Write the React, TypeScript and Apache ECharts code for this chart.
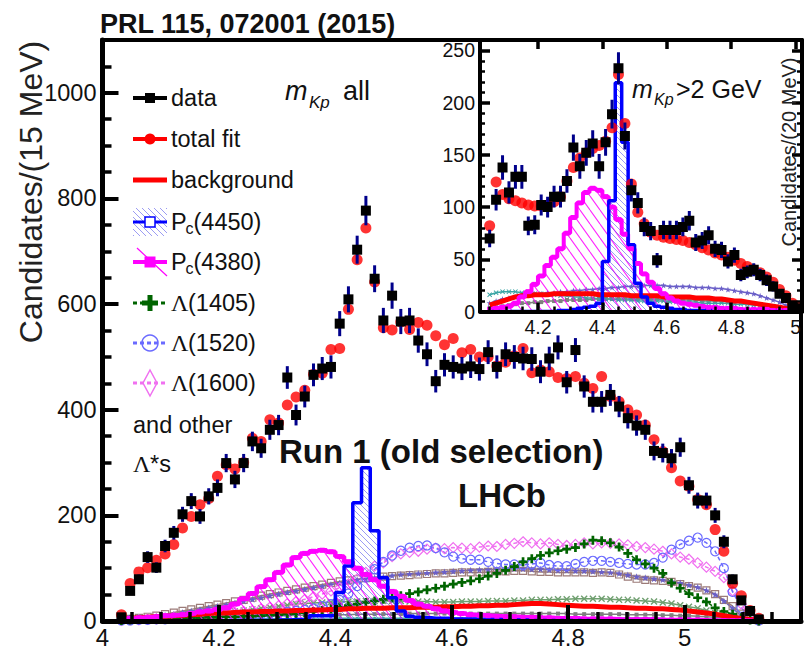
import React, { useEffect, useRef } from 'react';
import * as echarts from 'echarts';

const FONT = '"Liberation Sans", Arial, Helvetica, sans-serif';
const SERIF = '"Liberation Serif", "Times New Roman", serif';

// ---------- m(J/psi p), all m(Kp): 15 MeV bins ----------
const MAIN_FIRST_BIN = 4.0325;
const MAIN_BIN_WIDTH = 0.015;

const mainData = [
  7, 57, 79, 121, 101, 142, 167, 202, 227, 198,
  236, 252, 299, 268, 299, 340, 327, 362, 371, 461,
  390, 425, 466, 478, 481, 563, 609, 703, 777, 648,
  569, 616, 567, 569, 531, 505, 454, 485, 481, 478,
  482, 477, 509, 481, 505, 500, 497, 496, 472, 497,
  518, 452, 513, 444, 415, 415, 428, 406, 384, 370,
  362, 322, 318, 308, 329, 257, 228, 228, 200, 150,
  79, 39, 19, 3,
];
const mainFit = [
  12, 71, 93, 101, 115, 127, 145, 176, 198, 220,
  232, 274, 296, 288, 300, 346, 340, 381, 375, 409,
  424, 437, 467, 469, 514, 516, 590, 684, 744, 642,
  555, 551, 566, 552, 565, 560, 540, 523, 535, 508,
  514, 500, 500, 483, 490, 502, 516, 470, 475, 472,
  461, 459, 463, 450, 440, 463, 425, 415, 400, 390,
  371, 343, 321, 290, 265, 255, 230, 220, 173, 132,
  71, 48, 20, 5,
];
const mainPc4450 = [
  0, 0, 0, 0, 0, 0, 0, 0, 0, 0,
  0, 0, 0, 0, 1, 1, 1, 1, 2, 2,
  3, 3, 10, 10, 10, 54, 104, 224, 290, 171,
  82, 44, 19, 9, 7, 6, 5, 5, 4, 4,
  4, 3, 3, 3, 2, 2, 2, 1, 1, 1,
  1, 1, 1, 1, 0, 0, 0, 0, 0, 0,
  0, 0, 0, 0, 0, 0, 0, 0, 0, 0,
  0, 0, 0, 0,
];
const mainPc4380 = [
  3, 5, 6, 7, 8, 10, 11, 12, 14, 17,
  19, 22, 25, 32, 42, 52, 65, 78, 92, 106,
  120, 128, 132, 134, 131, 122, 112, 100, 88, 78,
  66, 56, 47, 39, 32, 28, 23, 19, 16, 14,
  12, 11, 10, 9, 8, 8, 7, 7, 6, 6,
  5, 5, 5, 4, 4, 4, 4, 3, 3, 3,
  3, 3, 2, 2, 2, 2, 2, 1, 1, 1,
  1, 1, 0, 0,
];
const mainBackground = [
  3, 5, 6, 7, 8, 9, 10, 11, 12, 13,
  14, 15, 15, 16, 17, 17, 18, 18, 19, 19,
  20, 20, 21, 21, 22, 22, 23, 23, 24, 24,
  24, 25, 25, 25, 26, 26, 26, 27, 27, 28,
  28, 29, 29, 30, 30, 31, 32, 33, 33, 32,
  31, 30, 29, 28, 28, 27, 26, 26, 25, 24,
  24, 23, 23, 22, 21, 19, 17, 15, 13, 10,
  7, 5, 3, 1,
];
const mainL1405 = [
  1, 2, 3, 3, 4, 4, 5, 5, 6, 6,
  7, 7, 8, 8, 9, 9, 10, 11, 12, 13,
  14, 16, 18, 20, 23, 26, 29, 32, 35, 38,
  41, 44, 48, 52, 55, 59, 62, 66, 70, 73,
  76, 80, 85, 90, 96, 103, 112, 118, 124, 129,
  133, 136, 139, 146, 153, 152, 148, 140, 128, 116,
  108, 100, 90, 72, 62, 52, 44, 36, 25, 18,
  13, 6, 2, 0,
];
const mainL1520 = [
  1, 1, 2, 2, 3, 3, 4, 4, 5, 6,
  7, 8, 9, 10, 11, 12, 13, 14, 15, 17,
  19, 21, 24, 28, 32, 40, 52, 66, 82, 98,
  112, 124, 133, 139, 142, 143, 138, 130, 122, 118,
  116, 116, 112, 109, 107, 107, 106, 108, 110, 106,
  104, 104, 108, 112, 114, 114, 112, 110, 108, 107,
  107, 110, 120, 135, 145, 152, 158, 148, 132, 100,
  55, 25, 8, 1,
];
const mainL1600 = [
  1, 2, 2, 3, 4, 5, 6, 7, 8, 9,
  10, 12, 14, 16, 18, 20, 23, 26, 29, 33,
  37, 41, 46, 51, 57, 63, 70, 80, 92, 104,
  110, 122, 127, 130, 132, 136, 138, 137, 139, 138,
  137, 140, 142, 141, 145, 147, 150, 148, 146, 148,
  145, 143, 145, 148, 146, 148, 147, 146, 144, 141,
  139, 136, 132, 127, 121, 117, 110, 102, 94, 82,
  57, 32, 10, 1,
];
// remaining Lambda* contributions
const mainOtherBrown = [
  2, 4, 6, 8, 10, 13, 16, 19, 22, 25,
  28, 31, 34, 37, 40, 44, 48, 51, 54, 57,
  60, 63, 66, 69, 72, 75, 77, 79, 81, 83,
  84, 85, 86, 87, 88, 89, 90, 90, 91, 92,
  92, 92, 93, 94, 94, 95, 95, 94, 93, 93,
  92, 92, 92, 92, 91, 92, 91, 88, 84, 80,
  78, 77, 76, 74, 70, 66, 63, 58, 51, 40,
  28, 14, 5, 1,
];
const mainOtherSlate = [
  1, 3, 5, 7, 9, 11, 13, 16, 19, 22,
  25, 28, 31, 34, 38, 41, 44, 48, 51, 54,
  57, 60, 63, 66, 69, 72, 75, 78, 80, 82,
  84, 86, 88, 89, 90, 91, 92, 93, 94, 95,
  96, 97, 97, 98, 98, 99, 99, 98, 98, 97,
  96, 96, 95, 95, 94, 93, 92, 90, 87, 84,
  82, 80, 78, 75, 72, 68, 64, 58, 50, 38,
  24, 10, 3, 0,
];
const mainOtherGreen = [
  1, 2, 3, 4, 5, 6, 7, 8, 10, 11,
  13, 14, 16, 18, 20, 22, 24, 26, 28, 30,
  32, 33, 34, 35, 36, 36, 37, 37, 38, 38,
  38, 38, 38, 37, 37, 37, 36, 36, 36, 37,
  37, 37, 38, 38, 38, 39, 39, 40, 40, 40,
  41, 41, 42, 42, 42, 42, 41, 40, 40, 39,
  38, 37, 35, 33, 30, 27, 24, 20, 15, 10,
  6, 3, 1, 0,
];
const mainOtherGrey = [
  1, 1, 2, 2, 3, 3, 4, 4, 5, 5,
  6, 6, 7, 7, 8, 8, 9, 9, 10, 10,
  11, 11, 11, 12, 12, 12, 12, 13, 13, 13,
  13, 13, 13, 14, 14, 14, 14, 14, 14, 14,
  14, 14, 14, 14, 14, 14, 14, 14, 14, 14,
  14, 14, 13, 13, 13, 13, 13, 13, 12, 12,
  12, 12, 11, 11, 10, 10, 9, 8, 7, 6,
  4, 3, 1, 0,
];
const mainOtherTeal = [
  1, 1, 1, 2, 2, 2, 2, 3, 3, 3,
  3, 3, 3, 4, 4, 4, 4, 4, 4, 4,
  4, 4, 4, 4, 4, 5, 5, 5, 5, 5,
  5, 5, 5, 5, 5, 5, 5, 5, 5, 5,
  5, 5, 5, 5, 5, 5, 5, 5, 5, 5,
  5, 5, 5, 5, 5, 5, 5, 5, 5, 5,
  5, 5, 4, 4, 4, 4, 4, 3, 3, 3,
  2, 1, 1, 0,
];

// ---------- inset, m(Kp) > 2 GeV: 20 MeV bins ----------
const INSET_FIRST_BIN = 4.05;
const INSET_BIN_WIDTH = 0.02;

const insetData = [
  70, 107, 138, 114, 129, 129, 82, 83, 102, 100,
  110, 110, 125, 157, 139, 152, 161, 139, 162, 189,
  233, 168, 116, 104, 81, 77, 49, 78, 78, 78,
  81, 87, 66, 68, 73, 60, 59, 48, 54, 35,
  38, 40, 35, 30, 24, 17, 13, 6, 3,
];
const insetFit = [
  82, 124, 112, 108, 106, 104, 102, 101, 101, 102,
  105, 110, 125, 138, 147, 152, 156, 159, 163, 176,
  227, 180, 122, 95, 84, 76, 73, 71, 70, 69,
  68, 66, 64, 61, 59, 56, 54, 52, 49, 46,
  43, 40, 37, 33, 28, 21, 15, 8, 4,
];
const insetPc4450 = [
  0, 0, 0, 0, 0, 0, 0, 0, 0, 0,
  0, 1, 1, 2, 3, 4, 5, 8, 48, 106,
  219, 162, 64, 27, 14, 8, 5, 4, 3, 2,
  2, 1, 1, 1, 1, 0, 0, 0, 0, 0,
  0, 0, 0, 0, 0, 0, 0, 0, 0,
];
const insetPc4380 = [
  2, 3, 4, 5, 8, 14, 19, 26, 34, 44,
  52, 60, 75, 90, 104, 114, 118, 116, 110, 100,
  88, 74, 60, 46, 36, 28, 22, 17, 13, 10,
  8, 7, 6, 5, 4, 4, 3, 3, 3, 2,
  2, 2, 2, 2, 1, 1, 1, 1, 0,
];
const insetBackground = [
  6, 8, 10, 12, 14, 15, 15, 16, 16, 16,
  17, 17, 17, 17, 17, 17, 17, 16, 16, 16,
  16, 16, 15, 15, 15, 15, 15, 14, 14, 14,
  14, 14, 13, 13, 13, 12, 12, 11, 10, 10,
  9, 8, 7, 6, 5, 4, 3, 2, 1,
];
const insetOtherSlate = [
  8, 10, 12, 13, 14, 15, 16, 17, 17, 18,
  18, 19, 19, 20, 20, 21, 21, 22, 22, 23,
  23, 24, 24, 24, 25, 25, 25, 25, 24, 24,
  24, 24, 23, 23, 23, 22, 22, 21, 20, 19,
  18, 17, 15, 13, 11, 9, 6, 4, 2,
];
const insetOtherTeal = [
  16, 18, 19, 19, 19, 18, 18, 17, 17, 16,
  16, 15, 15, 14, 14, 13, 13, 12, 12, 12,
  11, 11, 11, 10, 10, 10, 10, 10, 9, 9,
  9, 9, 9, 8, 8, 8, 8, 8, 7, 7,
  7, 6, 6, 5, 5, 4, 3, 2, 1,
];
const insetOtherGrey = [
  3, 4, 5, 6, 7, 8, 8, 9, 9, 10,
  10, 10, 11, 11, 11, 11, 12, 12, 12, 12,
  12, 12, 12, 12, 12, 12, 12, 11, 11, 11,
  11, 11, 11, 10, 10, 10, 10, 9, 9, 9,
  8, 8, 7, 6, 5, 4, 3, 2, 1,
];

// inset x-axis tick positions (GeV)
const INSET_X_MAJOR = [4.2, 4.4, 4.6, 4.8, 5.0];
const INSET_X_MINOR = [4.05, 4.1, 4.15, 4.25, 4.3, 4.35, 4.45, 4.5, 4.55, 4.65, 4.7, 4.75, 4.85, 4.9, 4.95];

const C = {
  data: '#000000',
  err: '#00008b',
  fit: '#ff0000',
  pc4450: '#0000ff',
  pc4380: '#ff00ff',
  l1405: '#006400',
  l1520: '#6a6aff',
  l1600: '#f070f0',
  brown: '#9c7b78',
  slate: '#6a5fc8',
  green: '#6f9f6f',
  grey: '#7f7f7f',
  teal: '#3aa5a5',
};

const binCenters = (first: number, width: number, n: number) =>
  Array.from({ length: n }, (_, i) => +(first + i * width).toFixed(4));
const xy = (xs: number[], ys: number[]) => ys.map((y, i) => [xs[i], y]);

const PLUS = 'path://M3.5,0h3v3.5h3.5v3h-3.5v3.5h-3v-3.5h-3.5v-3h3.5z';
const CROSS = 'path://M0,1.4L1.4,0L5,3.6L8.6,0L10,1.4L6.4,5L10,8.6L8.6,10L5,6.4L1.4,10L0,8.6L3.6,5z';
const STAR = 'path://M5,0L6.2,3.6L10,3.7L7,6L8.1,10L5,7.6L1.9,10L3,6L0,3.7L3.8,3.6z';

function hatchPattern(w: number, h: number, color: string, lw: number) {
  const cv = document.createElement('canvas');
  cv.width = w;
  cv.height = h;
  const g = cv.getContext('2d');
  if (g) {
    g.strokeStyle = color;
    g.lineWidth = lw;
    g.beginPath();
    for (const dx of [-w, 0, w]) {
      g.moveTo(dx, 0);
      g.lineTo(dx + w, h);
    }
    g.stroke();
  }
  return { image: cv.toDataURL(), repeat: 'repeat', imageWidth: w, imageHeight: h };
}

function component(
  xs: number[], ys: number[], grid: number, color: string, symbol: string,
  size: number, hollow: boolean, dashed: boolean, z: number,
) {
  return {
    type: 'line',
    xAxisIndex: grid,
    yAxisIndex: grid,
    z,
    silent: true,
    data: xy(xs, ys),
    symbol,
    symbolSize: size,
    showSymbol: true,
    showAllSymbol: true,
    lineStyle: { color, width: 1.5, type: dashed ? [4, 3] : 'solid' },
    itemStyle: hollow
      ? { color: 'rgba(0,0,0,0)', borderColor: color, borderWidth: 1.2 }
      : { color },
  };
}

function stepHist(xs: number[], ys: number[], grid: number, color: string, width: number, fill: any, z: number, symbol = 'none') {
  return {
    type: 'line',
    xAxisIndex: grid,
    yAxisIndex: grid,
    z,
    silent: true,
    step: 'middle',
    data: xy(xs, ys),
    symbol,
    symbolSize: 5,
    itemStyle: { color },
    lineStyle: { color, width },
    areaStyle: { color: fill, opacity: 1 },
  };
}

function dataPoints(xs: number[], ys: number[], grid: number, size: number) {
  return {
    type: 'custom',
    xAxisIndex: grid,
    yAxisIndex: grid,
    z: 6,
    silent: true,
    clip: true,
    encode: { x: 0, y: 1 },
    data: ys.map((v, i) => [xs[i], v, Math.sqrt(v)]),
    renderItem: (_params: any, api: any) => {
      const x = api.value(0);
      const v = api.value(1);
      const e = api.value(2);
      const c = api.coord([x, v]);
      const lo = api.coord([x, v - e]);
      const hi = api.coord([x, v + e]);
      return {
        type: 'group',
        children: [
          { type: 'line', shape: { x1: c[0], y1: lo[1], x2: c[0], y2: hi[1] }, style: { stroke: C.err, lineWidth: 3 } },
          { type: 'rect', shape: { x: c[0] - size / 2, y: c[1] - size / 2, width: size, height: size }, style: { fill: C.data } },
        ],
      };
    },
  };
}

function fitPoints(xs: number[], ys: number[], grid: number) {
  return {
    type: 'scatter',
    xAxisIndex: grid,
    yAxisIndex: grid,
    z: 5,
    silent: true,
    symbol: 'circle',
    symbolSize: 11,
    itemStyle: { color: C.fit },
    data: xy(xs, ys),
  };
}

function txt(x: number, y: number, text: string, size: number, extra: any = {}, el: any = {}) {
  return {
    type: 'text',
    x,
    y,
    z: 100,
    ...el,
    style: {
      text,
      fontSize: size,
      fontFamily: FONT,
      fill: '#111',
      align: 'left',
      textAlign: 'left',
      verticalAlign: 'middle',
      textVerticalAlign: 'middle',
      ...extra,
    },
  };
}

function hline(x1: number, x2: number, y: number, color: string, w: number, dash?: number[]) {
  return {
    type: 'line',
    z: 100,
    shape: { x1, y1: y, x2, y2: y },
    style: { stroke: color, lineWidth: w, lineDash: dash },
  };
}

export default function App() {
  const ref = useRef<HTMLDivElement>(null);

  useEffect(() => {
    document.body.style.margin = '0';
    if (!ref.current) return;
    const chart = echarts.init(ref.current, undefined, { renderer: 'svg' });

    const blueHatch = hatchPattern(6, 6, 'rgba(90,90,235,0.6)', 1);
    const magentaHatch = hatchPattern(10, 14, 'rgba(255,0,255,0.85)', 1.1);

    const mx = binCenters(MAIN_FIRST_BIN, MAIN_BIN_WIDTH, mainData.length);
    const ix = binCenters(INSET_FIRST_BIN, INSET_BIN_WIDTH, insetData.length);

    const axisText = { fontFamily: FONT, color: '#111' };
    const blackLine = (w: number) => ({ show: true, onZero: false, lineStyle: { color: '#000', width: w } });

    // legend rows
    const LX0 = 133;
    const LX1 = 167;
    const LXC = 150;
    const TX = 171;
    const rows = { data: 98, fit: 139, bkg: 180, p50: 222, p38: 262, l05: 303, l20: 343, l60: 383, other: 425, stars: 464 };

    const legend: any[] = [
      hline(LX0, LX1, rows.data, '#000', 4),
      { type: 'rect', z: 100, shape: { x: LXC - 5, y: rows.data - 5, width: 10, height: 10 }, style: { fill: '#000' } },
      txt(TX, rows.data, 'data', 23.5),

      hline(LX0, LX1, rows.fit, C.fit, 4),
      { type: 'circle', z: 100, shape: { cx: LXC, cy: rows.fit, r: 5.5 }, style: { fill: C.fit } },
      txt(TX, rows.fit, 'total fit', 23.5),

      hline(LX0, LX1, rows.bkg, C.fit, 5),
      txt(TX, rows.bkg, 'background', 23.5),

      { type: 'rect', z: 99, shape: { x: LX0, y: rows.p50 - 14, width: LX1 - LX0, height: 28 }, style: { fill: blueHatch } },
      hline(LX0, LX1, rows.p50, C.pc4450, 3),
      { type: 'rect', z: 100, shape: { x: LXC - 5, y: rows.p50 - 5, width: 10, height: 10 }, style: { fill: '#fff', stroke: C.pc4450, lineWidth: 1.5 } },
      txt(TX, rows.p50, 'P', 23.5),
      txt(TX + 14.5, rows.p50 + 6.5, 'c', 16),
      txt(TX + 22.5, rows.p50, '(4450)', 23.5),

      { type: 'line', z: 99, shape: { x1: 137, y1: rows.p38 - 14, x2: 167, y2: rows.p38 + 14 }, style: { stroke: C.pc4380, lineWidth: 1.2 } },
      hline(LX0, LX1, rows.p38, C.pc4380, 4),
      { type: 'rect', z: 100, shape: { x: LXC - 5.5, y: rows.p38 - 5.5, width: 11, height: 11 }, style: { fill: C.pc4380 } },
      txt(TX, rows.p38, 'P', 23.5),
      txt(TX + 14.5, rows.p38 + 6.5, 'c', 16),
      txt(TX + 22.5, rows.p38, '(4380)', 23.5),

      hline(LX0, LX1, rows.l05, C.l1405, 3, [4, 3]),
      {
        type: 'polygon', z: 100,
        shape: { points: [[147.5, 295], [152.5, 295], [152.5, 300.5], [158, 300.5], [158, 305.5], [152.5, 305.5], [152.5, 311], [147.5, 311], [147.5, 305.5], [142, 305.5], [142, 300.5], [147.5, 300.5]] },
        style: { fill: C.l1405 },
      },
      txt(TX, rows.l05, 'Λ', 24, { fontFamily: SERIF }),
      txt(TX + 17, rows.l05, '(1405)', 23.5),

      hline(LX0, LX1, rows.l20, C.l1520, 3, [4, 3]),
      { type: 'circle', z: 100, shape: { cx: LXC, cy: rows.l20, r: 8 }, style: { fill: 'none', stroke: C.l1520, lineWidth: 1.5 } },
      txt(TX, rows.l20, 'Λ', 24, { fontFamily: SERIF }),
      txt(TX + 17, rows.l20, '(1520)', 23.5),

      hline(LX0, LX1, rows.l60, C.l1600, 3, [4, 3]),
      { type: 'polygon', z: 100, shape: { points: [[LXC, rows.l60 - 13], [LXC + 7, rows.l60], [LXC, rows.l60 + 13], [LXC - 7, rows.l60]] }, style: { fill: 'none', stroke: C.l1600, lineWidth: 1.5 } },
      txt(TX, rows.l60, 'Λ', 24, { fontFamily: SERIF }),
      txt(TX + 17, rows.l60, '(1600)', 23.5),

      txt(LX0, rows.other, 'and other', 23.5),
      txt(LX0, rows.stars, 'Λ', 24, { fontFamily: SERIF }),
      txt(LX0 + 17, rows.stars, '*s', 23.5),
    ];

    const labels: any[] = [
      txt(100, 24, 'PRL 115, 072001 (2015)', 27, { fontWeight: 'bold' }),
      txt(31, 192, 'Candidates/(15 MeV)', 32, { align: 'center', textAlign: 'center', fill: '#222' }, { rotation: Math.PI / 2 }),
      txt(285, 91, 'm', 27, { fontStyle: 'italic' }),
      txt(309, 102, 'Kp', 17, { fontStyle: 'italic' }),
      txt(343, 91, 'all', 27),
      txt(279, 451, 'Run 1 (old selection)', 33, { fontWeight: 'bold' }),
      txt(458, 495, 'LHCb', 33, { fontWeight: 'bold' }),
      txt(632, 89, 'm', 25, { fontStyle: 'italic' }),
      txt(654, 99, 'Kp', 16, { fontStyle: 'italic' }),
      txt(676, 89, '>2 GeV', 25),
      txt(789, 152, 'Candidates/(20 MeV)', 20, { align: 'center', textAlign: 'center', fill: '#222' }, { rotation: Math.PI / 2 }),
    ];

    const option: any = {
      animation: false,
      backgroundColor: '#ffffff',
      grid: [
        { left: 102.5, top: 40, right: -9, bottom: 25.5, show: true, borderColor: '#000', borderWidth: 4, backgroundColor: 'rgba(0,0,0,0)' },
        { left: 480, top: 40, right: 0, bottom: 337.5, show: true, borderWidth: 0, backgroundColor: '#ffffff' },
      ],
      xAxis: [
        {
          gridIndex: 0, type: 'value', min: 4, max: 5.2, interval: 0.2, position: 'bottom', z: 10,
          axisLine: blackLine(5),
          axisTick: { show: true, inside: true, length: 16, lineStyle: { color: '#000', width: 4 } },
          minorTick: { show: true, splitNumber: 4, length: 9, lineStyle: { color: '#000', width: 3.5 } },
          splitLine: { show: false },
          axisLabel: { ...axisText, fontSize: 24, margin: 4, formatter: (v: number) => (v > 5.1 ? '' : String(+v.toFixed(1))) },
        },
        {
          gridIndex: 1, type: 'value', min: 4.02, max: 5.02, position: 'bottom', z: 10,
          axisLine: blackLine(4),
          axisTick: { show: true, inside: true, length: 9, customValues: INSET_X_MAJOR, lineStyle: { color: '#000', width: 3.5 } },
          splitLine: { show: false },
          axisLabel: {
            ...axisText, fontSize: 19.5, margin: 5, customValues: INSET_X_MAJOR,
            formatter: (v: number) => {
              const r = Math.round(v * 5) / 5;
              return Math.abs(v - r) < 1e-6 && v > 4.1 ? String(+r.toFixed(1)) : '';
            },
          },
        },
        {
          gridIndex: 1, type: 'value', min: 4.02, max: 5.02, position: 'bottom', z: 10,
          axisLine: { show: false },
          axisTick: { show: true, inside: true, length: 5, customValues: INSET_X_MINOR, lineStyle: { color: '#000', width: 2.5 } },
          splitLine: { show: false },
          axisLabel: { show: false },
        },
        {
          gridIndex: 1, type: 'value', min: 4.02, max: 5.02, position: 'top', z: 10,
          axisLine: blackLine(4),
          axisTick: { show: true, inside: true, length: 9, customValues: INSET_X_MAJOR, lineStyle: { color: '#000', width: 3.5 } },
          splitLine: { show: false },
          axisLabel: { show: false },
        },
      ],
      yAxis: [
        {
          gridIndex: 0, type: 'value', min: 0, max: 1100, interval: 200, position: 'left', z: 10,
          axisLine: blackLine(5),
          axisTick: { show: true, inside: true, length: 16, lineStyle: { color: '#000', width: 4 } },
          minorTick: { show: true, splitNumber: 4, length: 9, lineStyle: { color: '#000', width: 3.5 } },
          splitLine: { show: false },
          axisLabel: { ...axisText, fontSize: 23.5, margin: 6, formatter: (v: number) => (v > 1050 ? '' : String(v)) },
        },
        {
          gridIndex: 1, type: 'value', min: 0, max: 260, interval: 50, position: 'left', z: 10,
          axisLine: blackLine(4),
          axisTick: { show: true, inside: true, length: 10, lineStyle: { color: '#000', width: 3.5 } },
          minorTick: { show: true, splitNumber: 5, length: 5, lineStyle: { color: '#000', width: 2.5 } },
          splitLine: { show: false },
          axisLabel: { ...axisText, fontSize: 19.5, margin: 5, formatter: (v: number) => (v > 255 ? '' : String(v)) },
        },
        {
          gridIndex: 1, type: 'value', min: 0, max: 260, interval: 50, position: 'right', z: 10,
          axisLine: blackLine(4),
          axisTick: { show: true, inside: true, length: 10, lineStyle: { color: '#000', width: 3.5 } },
          minorTick: { show: true, splitNumber: 5, length: 5, lineStyle: { color: '#000', width: 2.5 } },
          splitLine: { show: false },
          axisLabel: { show: false },
        },
      ],
      series: [
        // main: fit components
        component(mx, mainOtherTeal, 0, C.teal, 'circle', 3, false, false, 2),
        component(mx, mainOtherGrey, 0, C.grey, 'rect', 4, false, false, 2),
        component(mx, mainOtherGreen, 0, C.green, CROSS, 7, false, false, 2),
        component(mx, mainOtherBrown, 0, C.brown, 'rect', 7, true, false, 2),
        component(mx, mainOtherSlate, 0, C.slate, STAR, 7, false, false, 2),
        component(mx, mainL1600, 0, C.l1600, 'diamond', 10, true, true, 2),
        component(mx, mainL1520, 0, C.l1520, 'circle', 9, true, true, 2),
        component(mx, mainL1405, 0, C.l1405, PLUS, 9, false, true, 2),
        {
          type: 'line', xAxisIndex: 0, yAxisIndex: 0, z: 3, silent: true, symbol: 'none',
          data: xy(mx, mainBackground), lineStyle: { color: C.fit, width: 5 },
        },
        stepHist(mx, mainPc4380, 0, C.pc4380, 4.5, magentaHatch, 3, 'rect'),
        stepHist(mx, mainPc4450, 0, C.pc4450, 3.5, blueHatch, 3),
        fitPoints(mx, mainFit, 0),
        dataPoints(mx, mainData, 0, 10),

        // inset
        component(ix, insetOtherGrey, 1, C.grey, 'rect', 4, false, false, 2),
        component(ix, insetOtherTeal, 1, C.teal, CROSS, 5, false, false, 2),
        component(ix, insetOtherSlate, 1, C.slate, STAR, 6, false, false, 2),
        {
          type: 'line', xAxisIndex: 1, yAxisIndex: 1, z: 3, silent: true, symbol: 'none',
          data: xy(ix, insetBackground), lineStyle: { color: C.fit, width: 5 },
        },
        stepHist(ix, insetPc4380, 1, C.pc4380, 4, magentaHatch, 3, 'rect'),
        stepHist(ix, insetPc4450, 1, C.pc4450, 3.5, blueHatch, 3),
        fitPoints(ix, insetFit, 1),
        dataPoints(ix, insetData, 1, 10),
      ],
      graphic: [...legend, ...labels],
    };

    chart.setOption(option);
    return () => chart.dispose();
  }, []);

  return <div ref={ref} style={{ width: 804, height: 649 }} />;
}
